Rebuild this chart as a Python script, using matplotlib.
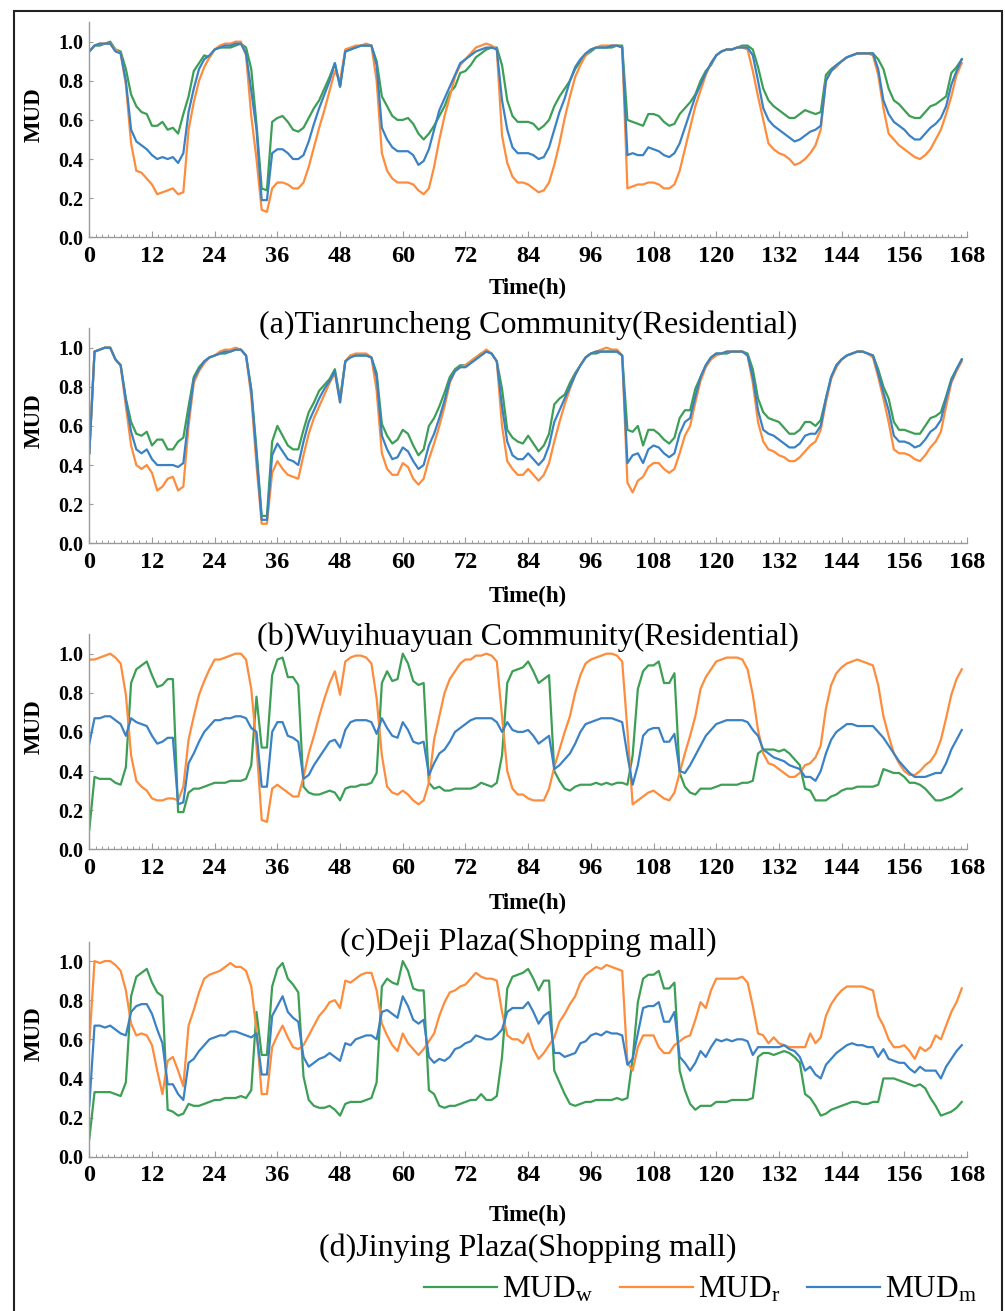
import matplotlib
matplotlib.use("Agg")
import matplotlib.pyplot as plt
import numpy as np
from matplotlib.ticker import AutoMinorLocator, FormatStrFormatter
from matplotlib.patches import Rectangle
from matplotlib.lines import Line2D

plt.rcParams['font.family'] = ['Liberation Serif', 'DejaVu Serif']
plt.rcParams['mathtext.fontset'] = 'custom'
plt.rcParams['mathtext.rm'] = 'Liberation Serif'
plt.rcParams['mathtext.it'] = 'Liberation Serif:italic'

# ---- data (hourly MUD values) ----
titles = ["(a)Tianruncheng Community(Residential)",
          "(b)Wuyihuayuan Community(Residential)",
          "(c)Deji Plaza(Shopping mall)",
          "(d)Jinying Plaza(Shopping mall)"]
xticks = list(range(0, 169, 12))

a_w = [0.95,0.98,0.98,0.99,1.00,0.96,0.95,0.86,0.73,0.67,0.64,0.63,
       0.57,0.57,0.59,0.55,0.56,0.53,0.63,0.72,0.85,0.89,0.93,0.92,
       0.96,0.97,0.97,0.97,0.98,0.99,0.97,0.86,0.58,0.25,0.24,0.59,
       0.61,0.62,0.59,0.55,0.54,0.56,0.61,0.66,0.70,0.76,0.82,0.89,
       0.77,0.95,0.96,0.97,0.98,0.98,0.98,0.90,0.72,0.67,0.62,0.60,
       0.60,0.61,0.58,0.53,0.50,0.53,0.57,0.62,0.67,0.74,0.77,0.84,
       0.85,0.88,0.92,0.94,0.96,0.97,0.97,0.88,0.70,0.62,0.59,0.59,
       0.59,0.58,0.55,0.57,0.60,0.67,0.72,0.76,0.80,0.86,0.90,0.93,
       0.95,0.97,0.97,0.97,0.97,0.98,0.98,0.60,0.59,0.58,0.57,0.63,
       0.63,0.62,0.59,0.57,0.58,0.63,0.66,0.69,0.73,0.80,0.85,0.88,
       0.93,0.95,0.96,0.96,0.97,0.98,0.98,0.96,0.87,0.76,0.70,0.67,
       0.65,0.63,0.61,0.61,0.63,0.65,0.64,0.63,0.64,0.83,0.86,0.88,
       0.90,0.92,0.93,0.94,0.94,0.94,0.94,0.91,0.86,0.76,0.70,0.68,
       0.65,0.62,0.61,0.61,0.64,0.67,0.68,0.70,0.72,0.84,0.87,0.91]
a_r = [0.95,0.98,0.99,0.99,0.99,0.96,0.94,0.78,0.48,0.34,0.33,0.30,
       0.27,0.22,0.23,0.24,0.25,0.22,0.23,0.55,0.69,0.80,0.87,0.92,
       0.96,0.98,0.99,0.99,1.00,1.00,0.93,0.62,0.40,0.14,0.13,0.25,
       0.28,0.28,0.27,0.25,0.25,0.28,0.36,0.46,0.56,0.65,0.75,0.85,
       0.80,0.96,0.97,0.98,0.98,0.99,0.98,0.80,0.43,0.34,0.30,0.28,
       0.28,0.28,0.27,0.24,0.22,0.25,0.36,0.50,0.62,0.72,0.82,0.88,
       0.91,0.94,0.97,0.98,0.99,0.98,0.96,0.52,0.38,0.31,0.28,0.28,
       0.27,0.25,0.23,0.24,0.28,0.37,0.48,0.61,0.72,0.82,0.88,0.93,
       0.96,0.97,0.98,0.98,0.98,0.98,0.97,0.25,0.26,0.27,0.27,0.28,
       0.28,0.27,0.25,0.25,0.27,0.34,0.45,0.56,0.67,0.75,0.83,0.89,
       0.93,0.95,0.96,0.96,0.97,0.97,0.96,0.85,0.72,0.60,0.48,0.45,
       0.43,0.42,0.40,0.37,0.38,0.40,0.43,0.47,0.55,0.80,0.85,0.87,
       0.90,0.92,0.93,0.94,0.94,0.94,0.93,0.83,0.66,0.53,0.50,0.47,
       0.45,0.43,0.41,0.40,0.42,0.45,0.50,0.55,0.63,0.72,0.83,0.89]
a_m = [0.95,0.98,0.99,0.99,0.99,0.95,0.94,0.80,0.55,0.49,0.47,0.45,
       0.42,0.40,0.41,0.40,0.41,0.38,0.43,0.64,0.76,0.86,0.91,0.93,
       0.96,0.97,0.98,0.98,0.99,0.99,0.94,0.75,0.55,0.19,0.19,0.43,
       0.45,0.45,0.43,0.40,0.40,0.42,0.49,0.58,0.66,0.73,0.80,0.89,
       0.77,0.95,0.96,0.97,0.98,0.98,0.98,0.88,0.56,0.50,0.46,0.44,
       0.44,0.44,0.42,0.37,0.39,0.45,0.55,0.65,0.71,0.77,0.83,0.89,
       0.91,0.93,0.95,0.96,0.97,0.97,0.96,0.70,0.55,0.46,0.43,0.43,
       0.43,0.42,0.40,0.41,0.46,0.55,0.64,0.71,0.80,0.87,0.91,0.94,
       0.96,0.97,0.97,0.97,0.98,0.98,0.97,0.42,0.43,0.42,0.42,0.46,
       0.45,0.44,0.42,0.41,0.43,0.48,0.56,0.64,0.72,0.78,0.84,0.89,
       0.93,0.95,0.96,0.96,0.97,0.97,0.97,0.93,0.80,0.66,0.60,0.57,
       0.55,0.53,0.51,0.49,0.50,0.52,0.54,0.55,0.57,0.80,0.85,0.88,
       0.90,0.92,0.93,0.94,0.94,0.94,0.94,0.86,0.70,0.63,0.59,0.57,
       0.55,0.52,0.50,0.50,0.53,0.56,0.58,0.61,0.67,0.78,0.85,0.91]

b_w = [0.46,0.98,0.99,1.00,1.00,0.94,0.91,0.74,0.62,0.56,0.55,0.57,
       0.50,0.53,0.53,0.48,0.48,0.52,0.54,0.70,0.85,0.90,0.93,0.95,
       0.96,0.97,0.97,0.98,0.99,0.99,0.96,0.79,0.48,0.14,0.14,0.52,
       0.60,0.55,0.50,0.48,0.48,0.58,0.67,0.72,0.78,0.81,0.84,0.89,
       0.74,0.93,0.96,0.96,0.96,0.96,0.95,0.87,0.61,0.55,0.51,0.53,
       0.58,0.56,0.50,0.45,0.48,0.60,0.64,0.70,0.77,0.85,0.89,0.91,
       0.91,0.93,0.95,0.97,0.98,0.97,0.93,0.79,0.58,0.54,0.52,0.51,
       0.55,0.51,0.47,0.50,0.56,0.71,0.74,0.76,0.82,0.87,0.91,0.95,
       0.97,0.97,0.98,0.98,0.98,0.98,0.96,0.58,0.57,0.60,0.50,0.58,
       0.58,0.56,0.53,0.51,0.54,0.64,0.68,0.68,0.79,0.85,0.91,0.95,
       0.97,0.97,0.97,0.98,0.98,0.98,0.97,0.89,0.74,0.67,0.64,0.63,
       0.62,0.59,0.56,0.56,0.58,0.62,0.62,0.60,0.63,0.74,0.85,0.91,
       0.94,0.96,0.97,0.98,0.98,0.97,0.96,0.89,0.80,0.74,0.62,0.58,
       0.58,0.57,0.56,0.56,0.60,0.64,0.65,0.67,0.75,0.84,0.89,0.94]
b_r = [0.46,0.98,0.99,1.00,1.00,0.94,0.91,0.70,0.50,0.40,0.38,0.40,
       0.36,0.27,0.29,0.33,0.34,0.27,0.29,0.60,0.82,0.88,0.92,0.95,
       0.96,0.98,0.99,0.99,1.00,0.99,0.96,0.75,0.40,0.10,0.10,0.36,
       0.42,0.38,0.35,0.34,0.33,0.45,0.56,0.64,0.70,0.76,0.82,0.87,
       0.72,0.93,0.96,0.97,0.97,0.97,0.95,0.78,0.46,0.38,0.35,0.35,
       0.41,0.39,0.33,0.30,0.33,0.43,0.51,0.60,0.70,0.82,0.88,0.90,
       0.91,0.93,0.95,0.97,0.99,0.97,0.93,0.60,0.42,0.38,0.35,0.35,
       0.38,0.35,0.32,0.35,0.41,0.52,0.62,0.71,0.79,0.86,0.91,0.95,
       0.97,0.98,0.99,1.00,0.99,0.99,0.96,0.31,0.26,0.32,0.34,0.39,
       0.41,0.41,0.38,0.36,0.38,0.46,0.55,0.60,0.72,0.83,0.90,0.94,
       0.96,0.97,0.98,0.98,0.98,0.98,0.96,0.82,0.62,0.52,0.48,0.47,
       0.45,0.44,0.42,0.42,0.44,0.47,0.50,0.52,0.58,0.72,0.84,0.90,
       0.94,0.96,0.97,0.98,0.98,0.97,0.95,0.85,0.74,0.62,0.48,0.46,
       0.46,0.45,0.43,0.42,0.45,0.49,0.52,0.57,0.70,0.82,0.88,0.93]
b_m = [0.46,0.98,0.99,1.00,1.00,0.94,0.91,0.73,0.57,0.48,0.46,0.48,
       0.43,0.40,0.40,0.40,0.40,0.39,0.41,0.64,0.84,0.89,0.93,0.95,
       0.96,0.97,0.98,0.98,0.99,0.99,0.96,0.78,0.45,0.12,0.12,0.45,
       0.51,0.47,0.43,0.42,0.40,0.52,0.62,0.68,0.74,0.79,0.83,0.88,
       0.72,0.93,0.95,0.96,0.96,0.96,0.95,0.85,0.55,0.48,0.43,0.44,
       0.49,0.47,0.42,0.38,0.40,0.50,0.56,0.64,0.73,0.83,0.88,0.90,
       0.90,0.92,0.94,0.96,0.98,0.97,0.93,0.70,0.52,0.45,0.43,0.43,
       0.46,0.43,0.40,0.43,0.50,0.62,0.68,0.74,0.80,0.86,0.91,0.95,
       0.97,0.98,0.98,0.98,0.98,0.98,0.96,0.41,0.45,0.46,0.41,0.48,
       0.50,0.49,0.46,0.44,0.46,0.56,0.62,0.64,0.75,0.85,0.91,0.95,
       0.97,0.97,0.98,0.98,0.98,0.98,0.96,0.85,0.68,0.58,0.56,0.55,
       0.53,0.51,0.49,0.49,0.51,0.55,0.56,0.56,0.60,0.74,0.85,0.91,
       0.94,0.96,0.97,0.98,0.98,0.97,0.96,0.87,0.77,0.68,0.55,0.52,
       0.52,0.51,0.49,0.50,0.53,0.57,0.59,0.63,0.74,0.83,0.89,0.94]

c_w = [0.10,0.37,0.36,0.36,0.36,0.34,0.33,0.42,0.85,0.92,0.94,0.96,
       0.89,0.83,0.84,0.87,0.87,0.19,0.19,0.29,0.31,0.31,0.32,0.33,
       0.34,0.34,0.34,0.35,0.35,0.35,0.36,0.43,0.78,0.52,0.52,0.89,
       0.97,0.98,0.88,0.88,0.84,0.32,0.29,0.28,0.28,0.29,0.30,0.29,
       0.25,0.31,0.32,0.32,0.33,0.33,0.34,0.39,0.85,0.91,0.86,0.87,
       1.00,0.95,0.86,0.84,0.85,0.34,0.31,0.32,0.30,0.30,0.31,0.31,
       0.31,0.31,0.32,0.34,0.33,0.32,0.34,0.48,0.85,0.91,0.92,0.93,
       0.96,0.91,0.85,0.87,0.89,0.40,0.35,0.31,0.30,0.32,0.33,0.33,
       0.33,0.34,0.33,0.34,0.33,0.34,0.34,0.33,0.48,0.82,0.91,0.94,
       0.94,0.96,0.85,0.85,0.90,0.39,0.32,0.29,0.28,0.31,0.31,0.31,
       0.32,0.33,0.33,0.33,0.33,0.34,0.34,0.35,0.49,0.51,0.51,0.51,
       0.50,0.51,0.49,0.46,0.43,0.31,0.30,0.25,0.25,0.25,0.27,0.28,
       0.30,0.31,0.31,0.32,0.32,0.32,0.32,0.33,0.41,0.40,0.39,0.39,
       0.37,0.34,0.34,0.33,0.31,0.28,0.25,0.25,0.26,0.27,0.29,0.31]
c_r = [0.97,0.97,0.98,0.99,1.00,0.98,0.95,0.79,0.48,0.35,0.32,0.30,
       0.26,0.25,0.25,0.26,0.26,0.25,0.32,0.56,0.68,0.79,0.86,0.92,
       0.97,0.97,0.98,0.99,1.00,1.00,0.97,0.82,0.53,0.15,0.14,0.31,
       0.33,0.31,0.29,0.27,0.27,0.37,0.49,0.58,0.68,0.77,0.85,0.91,
       0.79,0.96,0.98,0.99,0.99,0.98,0.95,0.77,0.48,0.32,0.29,0.28,
       0.30,0.28,0.25,0.23,0.25,0.34,0.56,0.68,0.80,0.87,0.91,0.95,
       0.97,0.97,0.99,0.99,1.00,0.99,0.96,0.68,0.40,0.31,0.28,0.28,
       0.26,0.25,0.25,0.25,0.31,0.42,0.51,0.60,0.68,0.80,0.89,0.95,
       0.97,0.98,0.99,1.00,1.00,0.99,0.96,0.61,0.23,0.25,0.27,0.29,
       0.30,0.28,0.26,0.25,0.29,0.39,0.49,0.58,0.68,0.82,0.88,0.92,
       0.96,0.97,0.98,0.98,0.98,0.97,0.92,0.79,0.61,0.49,0.44,0.43,
       0.41,0.39,0.37,0.37,0.39,0.43,0.44,0.47,0.53,0.72,0.84,0.90,
       0.93,0.95,0.96,0.97,0.96,0.95,0.94,0.84,0.68,0.58,0.49,0.44,
       0.40,0.38,0.38,0.40,0.43,0.45,0.49,0.56,0.67,0.79,0.87,0.92]
c_m = [0.54,0.67,0.67,0.68,0.68,0.66,0.64,0.58,0.67,0.65,0.64,0.63,
       0.58,0.54,0.55,0.57,0.57,0.23,0.24,0.44,0.49,0.55,0.60,0.63,
       0.66,0.66,0.67,0.67,0.68,0.68,0.67,0.62,0.60,0.32,0.32,0.60,
       0.65,0.65,0.58,0.57,0.55,0.36,0.38,0.43,0.47,0.51,0.55,0.56,
       0.52,0.61,0.65,0.66,0.66,0.66,0.65,0.59,0.67,0.62,0.58,0.57,
       0.65,0.61,0.55,0.54,0.55,0.38,0.44,0.49,0.51,0.55,0.60,0.62,
       0.64,0.66,0.67,0.67,0.67,0.67,0.65,0.60,0.65,0.61,0.60,0.60,
       0.61,0.58,0.54,0.56,0.58,0.41,0.43,0.46,0.49,0.54,0.60,0.64,
       0.65,0.66,0.67,0.67,0.67,0.66,0.65,0.48,0.33,0.43,0.58,0.61,
       0.62,0.62,0.55,0.55,0.59,0.40,0.39,0.43,0.48,0.53,0.58,0.61,
       0.64,0.65,0.66,0.66,0.66,0.66,0.65,0.61,0.58,0.51,0.49,0.47,
       0.46,0.45,0.43,0.42,0.41,0.37,0.37,0.35,0.40,0.49,0.56,0.60,
       0.62,0.64,0.64,0.63,0.63,0.63,0.63,0.60,0.57,0.53,0.49,0.45,
       0.42,0.39,0.37,0.37,0.37,0.38,0.39,0.39,0.44,0.51,0.56,0.61]

d_w = [0.09,0.33,0.33,0.33,0.33,0.32,0.31,0.38,0.82,0.92,0.94,0.96,
       0.89,0.84,0.82,0.24,0.23,0.21,0.22,0.27,0.26,0.26,0.27,0.28,
       0.29,0.29,0.30,0.30,0.30,0.31,0.30,0.34,0.74,0.52,0.52,0.87,
       0.96,0.99,0.91,0.88,0.84,0.41,0.29,0.26,0.25,0.25,0.26,0.24,
       0.21,0.27,0.28,0.28,0.28,0.29,0.30,0.38,0.87,0.91,0.89,0.88,
       1.00,0.95,0.86,0.85,0.85,0.34,0.32,0.26,0.25,0.26,0.26,0.27,
       0.28,0.29,0.29,0.32,0.29,0.29,0.31,0.51,0.86,0.92,0.93,0.94,
       0.96,0.91,0.85,0.90,0.90,0.44,0.38,0.32,0.27,0.26,0.27,0.28,
       0.28,0.29,0.29,0.29,0.29,0.30,0.29,0.30,0.50,0.79,0.91,0.93,
       0.93,0.95,0.86,0.86,0.89,0.44,0.34,0.27,0.24,0.26,0.26,0.26,
       0.28,0.28,0.28,0.29,0.29,0.29,0.29,0.30,0.51,0.53,0.53,0.52,
       0.53,0.54,0.53,0.51,0.48,0.32,0.30,0.26,0.21,0.22,0.24,0.25,
       0.26,0.27,0.28,0.28,0.27,0.27,0.28,0.28,0.40,0.40,0.40,0.39,
       0.38,0.37,0.36,0.37,0.35,0.30,0.26,0.21,0.22,0.23,0.25,0.28]
d_r = [0.58,1.00,0.99,1.00,1.00,0.98,0.95,0.85,0.68,0.62,0.63,0.62,
       0.57,0.44,0.32,0.49,0.51,0.44,0.36,0.67,0.75,0.84,0.91,0.93,
       0.94,0.95,0.97,0.99,0.97,0.97,0.95,0.87,0.65,0.32,0.32,0.56,
       0.62,0.67,0.61,0.56,0.55,0.57,0.62,0.67,0.72,0.75,0.79,0.80,
       0.76,0.90,0.89,0.91,0.93,0.94,0.94,0.85,0.68,0.62,0.57,0.54,
       0.63,0.58,0.55,0.52,0.55,0.59,0.63,0.72,0.79,0.84,0.85,0.87,
       0.88,0.91,0.94,0.92,0.91,0.91,0.90,0.74,0.62,0.60,0.60,0.58,
       0.63,0.55,0.50,0.53,0.57,0.61,0.69,0.73,0.78,0.82,0.89,0.93,
       0.95,0.97,0.96,0.98,0.97,0.96,0.95,0.48,0.44,0.56,0.62,0.62,
       0.62,0.56,0.53,0.53,0.57,0.59,0.61,0.62,0.70,0.79,0.76,0.85,
       0.91,0.91,0.91,0.91,0.91,0.92,0.89,0.77,0.63,0.62,0.58,0.61,
       0.58,0.57,0.56,0.56,0.56,0.56,0.63,0.58,0.61,0.72,0.78,0.82,
       0.85,0.87,0.87,0.87,0.87,0.86,0.85,0.72,0.67,0.60,0.56,0.56,
       0.57,0.54,0.50,0.56,0.54,0.56,0.62,0.60,0.67,0.74,0.79,0.86]
d_m = [0.26,0.67,0.67,0.66,0.67,0.65,0.63,0.62,0.74,0.77,0.78,0.78,
       0.73,0.65,0.58,0.37,0.37,0.32,0.29,0.48,0.50,0.54,0.57,0.60,
       0.61,0.62,0.62,0.64,0.64,0.63,0.62,0.61,0.63,0.42,0.42,0.72,
       0.77,0.82,0.74,0.71,0.69,0.51,0.46,0.48,0.50,0.51,0.53,0.51,
       0.49,0.58,0.57,0.60,0.61,0.62,0.62,0.60,0.74,0.75,0.73,0.71,
       0.82,0.77,0.70,0.68,0.70,0.51,0.48,0.50,0.49,0.51,0.55,0.56,
       0.58,0.59,0.62,0.61,0.60,0.60,0.62,0.65,0.74,0.76,0.76,0.76,
       0.79,0.74,0.68,0.72,0.74,0.53,0.53,0.51,0.52,0.53,0.58,0.59,
       0.62,0.63,0.62,0.64,0.63,0.63,0.62,0.47,0.50,0.63,0.76,0.77,
       0.77,0.79,0.69,0.69,0.74,0.51,0.48,0.44,0.48,0.54,0.51,0.56,
       0.60,0.59,0.60,0.59,0.60,0.60,0.59,0.52,0.56,0.56,0.56,0.56,
       0.56,0.57,0.55,0.54,0.51,0.44,0.46,0.42,0.40,0.47,0.50,0.53,
       0.55,0.57,0.58,0.57,0.57,0.56,0.56,0.51,0.55,0.50,0.49,0.48,
       0.48,0.45,0.43,0.46,0.44,0.44,0.44,0.40,0.46,0.50,0.54,0.57]

panels = [(a_w, a_r, a_m), (b_w, b_r, b_m), (c_w, c_r, c_m), (d_w, d_r, d_m)]
series_labels = [r'MUD$_\mathrm{w}$', r'MUD$_\mathrm{r}$', r'MUD$_\mathrm{m}$']
colors = ['#3d9f55', '#fd8c3c', '#3b82c5']

W, H = 1005, 1311
fig = plt.figure(figsize=(W / 100, H / 100), dpi=100)

ax_left, ax_width, ax_height = 89.3, 877.7, 215.2
ax_bottoms = [237.3, 543.3, 849.3, 1156.7]
xlabel_y = [288.5, 596, 903.5, 1215]
title_y = [325, 637, 942, 1248]

for i, (w, r, m) in enumerate(panels):
    ax = fig.add_axes([ax_left / W, (H - ax_bottoms[i]) / H, ax_width / W, ax_height / H])
    for vals, col in zip((w, r, m), colors):
        ax.plot(np.arange(len(vals)), vals, color=col, lw=1.6)
    ax.set_xlim(0, 168)
    ax.set_ylim(0, 1.1)
    ax.set_xticks(xticks)
    ax.set_yticks(np.arange(0, 1.01, 0.2))
    ax.yaxis.set_major_formatter(FormatStrFormatter('%.1f'))
    ax.xaxis.set_minor_locator(AutoMinorLocator(10))
    for s in ('top', 'right'):
        ax.spines[s].set_visible(False)
    for s in ('left', 'bottom'):
        ax.spines[s].set_color('#9a9a9a')
        ax.spines[s].set_linewidth(1.0)
    ax.tick_params(axis='x', which='major', direction='in', length=4, width=0.8,
                   color='#9a9a9a', labelsize=17.5, pad=6)
    ax.tick_params(axis='x', which='minor', direction='in', length=2.5, width=0.7,
                   color='#9a9a9a')
    ax.tick_params(axis='y', which='major', direction='in', length=3, width=0.8,
                   color='#9a9a9a', labelsize=14.5, pad=4)
    for lbl in ax.get_xticklabels() + ax.get_yticklabels():
        lbl.set_fontweight('bold')
    ax.set_ylabel('MUD', fontsize=16.5, fontweight='bold')
    ax.yaxis.set_label_coords(-0.0505, 0.571)
    fig.text(528 / W, 1 - xlabel_y[i] / H, 'Time(h)', ha='center', va='center',
             fontsize=16.5, fontweight='bold')
    fig.text(528 / W, 1 - title_y[i] / H, titles[i], ha='center', va='center',
             fontsize=23)

handles = [Line2D([], [], color=c, lw=1.6) for c in colors]
fig.legend(handles, series_labels, loc='center left', bbox_to_anchor=(424 / W, 1 - 1290 / H),
           ncol=3, frameon=False, fontsize=22.5, handlelength=2.35, handletextpad=0.15,
           columnspacing=0.85, borderpad=0, borderaxespad=0)

fig.patches.append(Rectangle((14 / W, -0.02), 988 / W, 1.02 - 11 / H, transform=fig.transFigure,
                             fill=False, ec='#222222', lw=1.5))

fig.savefig('out.png', dpi=100)
